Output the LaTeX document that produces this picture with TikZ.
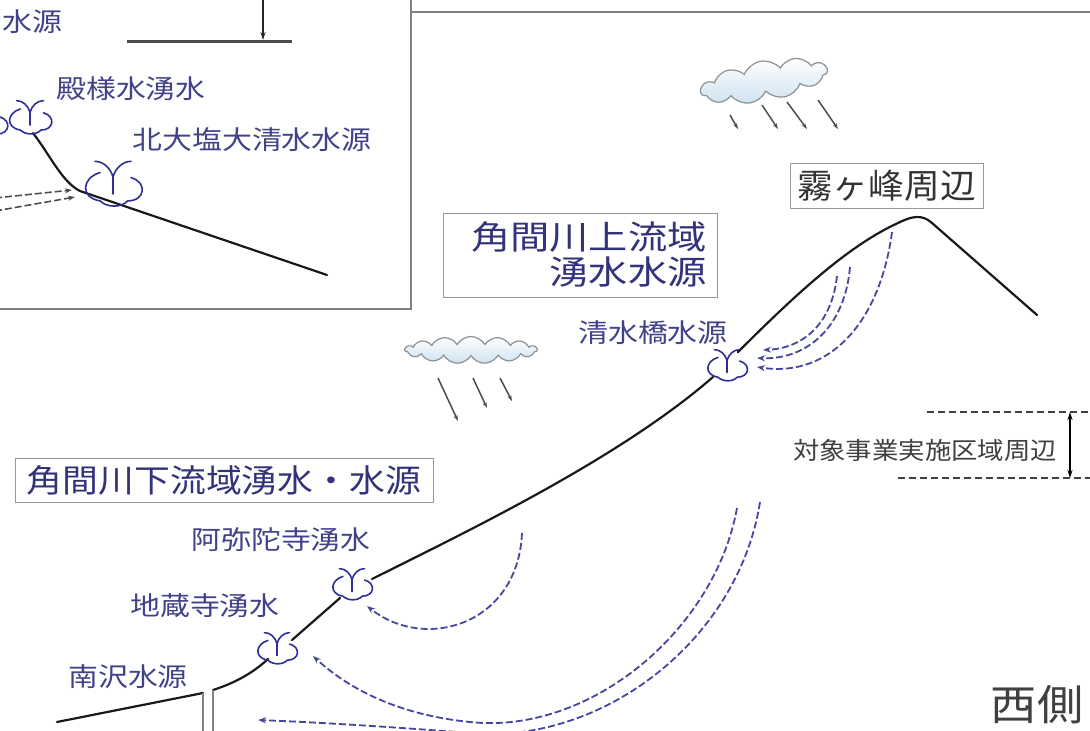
\documentclass[tikz,border=0pt]{standalone}
\usepackage{fontspec}
\newfontfamily\jp{Noto Sans CJK JP}
\usetikzlibrary{arrows.meta,shapes.symbols}
\definecolor{lbl}{HTML}{42428A}
\definecolor{lbldark}{HTML}{33337A}
\definecolor{spr}{HTML}{2E2E96}
\definecolor{flow}{HTML}{4646A0}
\definecolor{frame}{HTML}{808080}
\definecolor{cloudline}{HTML}{8C9196}
\definecolor{cloudfill}{HTML}{CFE2F0}

\tikzset{
  ground/.style={line width=2.2pt, black!90, line cap=round, line join=round},
  flowarrow/.style={flow, line width=1.8pt, dash pattern=on 7pt off 3pt,
    -{Stealth[length=8pt,width=6pt]}},
  inflow/.style={black!70, line width=1.6pt, dash pattern=on 7pt off 3pt,
    -{Stealth[length=7pt,width=5pt]}},
  rain/.style={line width=1.5pt, black!70, -{Stealth[length=6pt,width=4pt]}},
  lbltext/.style={text=lbl, font=\jp\fontsize{26}{28}\selectfont, xscale=1.15, inner sep=0pt},
  bigtext/.style={text=lbldark, font=\jp\fontsize{33}{35}\selectfont, inner sep=0pt},
  titlebox/.style={draw=frame!80, line width=1pt, inner sep=0pt},
  puffcloud/.style={cloud, draw=cloudline, line width=1.2pt, top color=white,
    bottom color=cloudfill, inner sep=0pt},
  spring/.pic={
    \draw[spr, line width=1.6pt, line cap=round]
      (-0.42,-0.48) .. controls (-0.22,-0.48) and (-0.06,-0.32) .. (0,-0.12)
      .. controls (0.06,-0.32) and (0.22,-0.48) .. (0.42,-0.48);
    \draw[spr, line width=1.6pt, line cap=round] (0,-0.12) -- (0,0.28);
    \draw[spr, line width=1.6pt, line cap=round]
      (-0.3,-0.22) .. controls (-0.72,-0.1) and (-0.78,0.36) .. (-0.3,0.44)
      .. controls (-0.14,0.6) and (0.2,0.6) .. (0.34,0.44)
      .. controls (0.76,0.44) and (0.8,0.0) .. (0.42,-0.1);
  }
}

\begin{document}
\begin{tikzpicture}[x=1pt,y=-1pt]
\useasboundingbox (0,0) rectangle (1090,731);

% ---------- inset frame and top rule ----------
\draw[frame, line width=1.2pt] (-5,309) -- (411,309) -- (411,-5);
\draw[frame, line width=1.2pt] (411,12) -- (1095,12);

% level bar with downward arrow
\coordinate (barL) at (127,41);
\coordinate (barR) at (292,41);
\coordinate (arrTop) at (263,-5);
\coordinate (arrEnd) at (263,40);
\draw[black!70, line width=3pt] (barL) -- (barR);
\draw[black!85, line width=1.2pt, -{Stealth[length=8pt,width=5pt]}] (arrTop) -- (arrEnd);

% inset labels
\node[lbltext, anchor=east] (cutlbl) at (63,22) {水源};
\node[lbltext] (tono) at (131,89) {殿様水湧水};
\node[lbltext] (kitaoshio) at (252,140) {北大塩大清水水源};

% inset ground profile
\coordinate (g1) at (33,133);
\coordinate (g2) at (80,191);
\coordinate (g3) at (327,275);
\draw[ground] (g1) .. controls (50,155) and (62,182) .. (g2) -- (g3);

% inset springs
\pic[scale=32] at (-14,120) {spring};
\pic[scale=32] at (30,116) {spring};
\pic[scale=43] at (113,182) {spring};

% inset inflow
\coordinate (if1s) at (-5,198);
\coordinate (if1e) at (72,190);
\coordinate (if2s) at (-5,211);
\coordinate (if2e) at (75,197);
\draw[inflow] (if1s) -- (if1e);
\draw[inflow] (if2s) -- (if2e);

% ---------- clouds and rain ----------
\node[puffcloud, cloud puffs=11, cloud puff arc=115, aspect=2.8,
      minimum width=128pt, minimum height=40pt, rotate=10] (cloudA) at (764,81) {};
\coordinate (ra1) at (730,115); \coordinate (ra1e) at (738,129);
\coordinate (ra2) at (762,105); \coordinate (ra2e) at (778,129);
\coordinate (ra3) at (787,102); \coordinate (ra3e) at (807,129);
\coordinate (ra4) at (818,100); \coordinate (ra4e) at (838,129);
\draw[rain] (ra1) -- (ra1e);
\draw[rain] (ra2) -- (ra2e);
\draw[rain] (ra3) -- (ra3e);
\draw[rain] (ra4) -- (ra4e);

\node[puffcloud, cloud puffs=15, cloud puff arc=120, aspect=5,
      minimum width=132pt, minimum height=27pt] (cloudB) at (471,350) {};
\coordinate (rb1) at (438,378); \coordinate (rb1e) at (458,421);
\coordinate (rb2) at (473,378); \coordinate (rb2e) at (487,408);
\coordinate (rb3) at (500,378); \coordinate (rb3e) at (512,401);
\draw[rain] (rb1) -- (rb1e);
\draw[rain] (rb2) -- (rb2e);
\draw[rain] (rb3) -- (rb3e);

% ---------- title boxes ----------
\node[titlebox, minimum width=193pt, minimum height=45pt] (kirobox) at (886.5,185.5) {};
\node[text=black!80, font=\jp\fontsize{34}{36}\selectfont, xscale=1.05, inner sep=0pt]
  (kiro) at (kirobox) {霧ヶ峰周辺};

\node[titlebox, minimum width=274pt, minimum height=84pt] (upbox) at (580,255) {};
\node[bigtext, align=right, anchor=east, xscale=1.19] (up) at (707,254.5)
  {角間川上流域\\湧水水源};

\node[titlebox, minimum width=418pt, minimum height=44pt] (lowbox) at (224,480) {};
\node[bigtext, font=\jp\fontsize{32}{34}\selectfont, xscale=1.12] (low) at (lowbox)
  {角間川下流域湧水・水源};

% ---------- spring labels ----------
\node[lbltext] (shimizubashi) at (653,333) {清水橋水源};
\node[lbltext] (amida) at (281,540) {阿弥陀寺湧水};
\node[lbltext] (jizo) at (205,606) {地蔵寺湧水};
\node[lbltext] (minamisawa) at (128,677) {南沢水源};

% ---------- main ground profile ----------
\coordinate (w0) at (57,722);
\coordinate (wL) at (203,693);
\coordinate (wR) at (213,690);
\coordinate (j1) at (268,659);
\coordinate (j2) at (292,640);
\coordinate (a1) at (340,598);
\coordinate (a2) at (372,579);
\coordinate (k1) at (713,377);
\coordinate (k2) at (738,352);
\coordinate (rEnd) at (1037,315);
\coordinate (wLb) at (203,735);
\coordinate (wRb) at (213,735);

\draw[ground] (w0) -- (wL);
\draw[ground] (wR) .. controls (238,682) and (255,671) .. (j1);
\draw[ground] (j2) -- (a1);
\draw[ground] (a2) .. controls (470,530) and (620,458) .. (k1);
\draw[ground] (k2) .. controls (800,290) and (850,245) .. (898,223)
  .. controls (912,216) and (922,214) .. (932,223) -- (rEnd);
% well shaft
\draw[frame, line width=1.2pt] (wL) -- (wLb);
\draw[frame, line width=1.2pt] (wR) -- (wRb);

% main springs
\pic[scale=30] at (277,647) {spring};
\pic[scale=30] at (352,583) {spring};
\pic[scale=30] at (727,364) {spring};

% ---------- groundwater flow ----------
\coordinate (fa) at (837,276);  \coordinate (fae) at (763,350);
\coordinate (fb) at (850,267);  \coordinate (fbe) at (757,358);
\coordinate (fc) at (892,232);  \coordinate (fce) at (757,367);
\draw[flowarrow] (fa) .. controls (832,322) and (805,348) .. (fae);
\draw[flowarrow] (fb) .. controls (845,326) and (808,360) .. (fbe);
\draw[flowarrow] (fc) .. controls (880,322) and (830,378) .. (fce);

\coordinate (fd) at (522,533);  \coordinate (fde) at (367,606);
\draw[flowarrow] (fd) .. controls (518,625) and (425,652) .. (fde);

\coordinate (fe) at (737,508);  \coordinate (fee) at (313,656);
\draw[flowarrow] (fe) .. controls (715,630) and (590,735) .. (470,722)
  .. controls (400,715) and (350,690) .. (fee);

\coordinate (ff) at (760,502);  \coordinate (ffe) at (258,720);
\draw[flowarrow] (ff) .. controls (738,642) and (600,745) .. (470,733)
  .. controls (380,726) and (310,722) .. (ffe);

% ---------- project area band ----------
\coordinate (u1) at (927,412); \coordinate (u2) at (1095,412);
\coordinate (d1) at (898,478); \coordinate (d2) at (1095,478);
\draw[black!75, line width=1.4pt, dash pattern=on 7pt off 4pt] (u1) -- (u2);
\draw[black!75, line width=1.4pt, dash pattern=on 7pt off 4pt] (d1) -- (d2);
\coordinate (ua) at (1070,412); \coordinate (da) at (1070,478);
\draw[black, line width=1.3pt, {Stealth[length=8pt,width=5pt]}-{Stealth[length=8pt,width=5pt]}] (ua) -- (da);
\node[text=black!75, font=\jp\fontsize{24}{26}\selectfont, xscale=1.1, inner sep=0pt]
  (area) at (925,450) {対象事業実施区域周辺};

% ---------- side label ----------
\node[text=black!75, font=\jp\fontsize{42}{44}\selectfont, xscale=1.1, inner sep=0pt]
  (west) at (1037,705) {西側};

\end{tikzpicture}
\end{document}
